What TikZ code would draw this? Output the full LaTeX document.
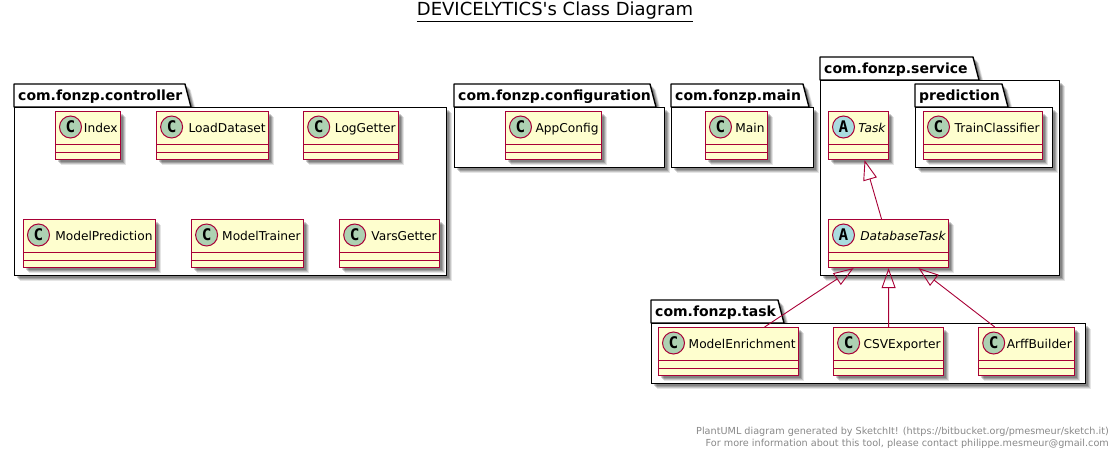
\documentclass[tikz,border=0pt]{standalone}
\usepackage{fontspec}
\setmainfont{DejaVu Sans}
\setmonofont{DejaVu Sans Mono}
\usepackage{xcolor}
\definecolor{umlred}{HTML}{A80036}
\definecolor{umlcream}{HTML}{FEFECE}
\definecolor{umlgreen}{HTML}{ADD1B2}
\definecolor{umlblue}{HTML}{A9DCDF}
\definecolor{umlgray}{HTML}{888888}
\usetikzlibrary{
    arrows.meta,
    positioning,
    shadows
}

\begin{document}
\begin{tikzpicture}[
  x=1pt, y=-1pt,
  node distance=35pt,
  softshadow/.style={
    drop shadow={shadow xshift=5.5pt, shadow yshift=-5.5pt, fill=black, opacity=0.1},
    drop shadow={shadow xshift=4.5pt, shadow yshift=-4.5pt, fill=black, opacity=0.14},
    drop shadow={shadow xshift=3.5pt, shadow yshift=-3.5pt, fill=black, opacity=0.18},
    drop shadow={shadow xshift=2.5pt, shadow yshift=-2.5pt, fill=black, opacity=0.18}},
  pkgbody/.style={draw=black, fill=white, line width=1.4pt, inner sep=0pt, softshadow},
  pkgtab/.style={draw=black, fill=white, line width=1.4pt, line join=round, softshadow},
  pkglabel/.style={anchor=base west, inner sep=0pt, font=\fontsize{14}{16}\selectfont\bfseries},
  classbox/.style={draw=umlred, fill=umlcream, line width=1.1pt, inner ysep=0pt, inner xsep=3pt,
    text width=#1-6pt, align=right, text height=20.5pt, text depth=27.5pt,
    font=\fontsize{12.2}{15}\selectfont, softshadow},
  abstractbox/.style={classbox=#1, font=\fontsize{12.2}{15}\selectfont\itshape},
  badge/.style={circle, draw=umlred, line width=1pt, minimum size=22pt, inner sep=0pt,
    font=\fontsize{16}{18}\selectfont\ttfamily\bfseries},
  classline/.style={draw=umlred, line width=1.1pt},
  extends/.style={draw=umlred, line width=0.9pt, -{Triangle[open, length=20pt, width=14pt, line width=0.9pt]}}
]
\useasboundingbox (0,0) rectangle (1119,458);

\foreach \pkg/\px/\py/\pw/\ph/\tabw/\ptext in {
    controller/14/107/432/168/171/com.fonzp.controller,
    configuration/454/107/210/60/196/com.fonzp.configuration,
    main/671/107/142/60/132/com.fonzp.main,
    service/820/80/239/195/153/com.fonzp.service,
    prediction/915/107/137/60/87/prediction,
    task/651/323/434/60/127/com.fonzp.task}{
  \coordinate (\pkg-corner) at (\px,\py);
  \draw[pkgtab] (\pkg-corner) -- ++(0,-23) -- ++(\tabw,0) -- ++(6,23) -- cycle;
  \node[pkgbody, anchor=north west, minimum width=\pw pt, minimum height=\ph pt] (\pkg) at (\pkg-corner) {};
  \node[pkglabel] (\pkg-label) at ([xshift=4pt, yshift=7pt]\pkg-corner) {\ptext};
}

\node[classbox=65pt, anchor=north west] (index) at (55,111) {Index};
\node[classbox=112pt, right=of index] (loaddataset) {LoadDataset};
\node[classbox=95pt, right=34pt of loaddataset] (loggetter) {LogGetter};
\node[classbox=132pt, anchor=north west] (modelprediction) at (23,219) {ModelPrediction};
\node[classbox=112pt, right=of modelprediction] (modeltrainer) {ModelTrainer};
\node[classbox=100pt, right=of modeltrainer] (varsgetter) {VarsGetter};
\node[classbox=96pt, anchor=north west] (appconfig) at (505,111) {AppConfig};
\node[classbox=62pt, anchor=north west] (mainclass) at (705,111) {Main};
\node[abstractbox=60pt, anchor=north west] (taskclass) at (828,111) {Task};
\node[classbox=119pt, anchor=north west] (trainclassifier) at (923,111) {TrainClassifier};
\node[abstractbox=120pt, anchor=north west] (databasetask) at (828,219) {DatabaseTask};
\node[classbox=140pt, anchor=north west] (modelenrichment) at (658,327) {ModelEnrichment};
\node[classbox=110pt, right=34pt of modelenrichment] (csvexporter) {CSVExporter};
\node[classbox=96pt, right=34pt of csvexporter] (arffbuilder) {ArffBuilder};

\foreach \cls/\letter/\col in {
    index/C/umlgreen, loaddataset/C/umlgreen, loggetter/C/umlgreen,
    modelprediction/C/umlgreen, modeltrainer/C/umlgreen, varsgetter/C/umlgreen,
    appconfig/C/umlgreen, mainclass/C/umlgreen, trainclassifier/C/umlgreen,
    modelenrichment/C/umlgreen, csvexporter/C/umlgreen, arffbuilder/C/umlgreen,
    taskclass/A/umlblue, databasetask/A/umlblue}{
  \node[badge, fill=\col] (\cls-badge) at ([xshift=15.5pt, yshift=-16pt]\cls.north west) {\letter};
  \draw[classline] ([yshift=16pt]\cls.south west) -- ([yshift=16pt]\cls.south east);
  \draw[classline] ([yshift=8pt]\cls.south west) -- ([yshift=8pt]\cls.south east);
}

\draw[extends] ([xshift=-7pt]databasetask.north) -- ([xshift=6pt]taskclass.south);
\draw[extends] ([xshift=36pt]modelenrichment.north) -- ([xshift=-35pt]databasetask.south);
\draw[extends] (csvexporter.north) -- (databasetask.south);
\draw[extends] ([xshift=-32pt]arffbuilder.north) -- ([xshift=30pt]databasetask.south);

\node[inner sep=0pt, font=\fontsize{18}{21}\selectfont] (title) at (555,12) {\underline{DEVICELYTICS\textquotesingle s Class Diagram}};
\node[anchor=south east, inner sep=0pt, align=right, text=umlgray, font=\fontsize{9.67}{12}\selectfont] (footer) at (1109,449)
  {PlantUML diagram generated by SketchIt! (https://bitbucket.org/pmesmeur/sketch.it)\\
   For more information about this tool, please contact philippe.mesmeur@gmail.com};
\end{tikzpicture}
\end{document}
